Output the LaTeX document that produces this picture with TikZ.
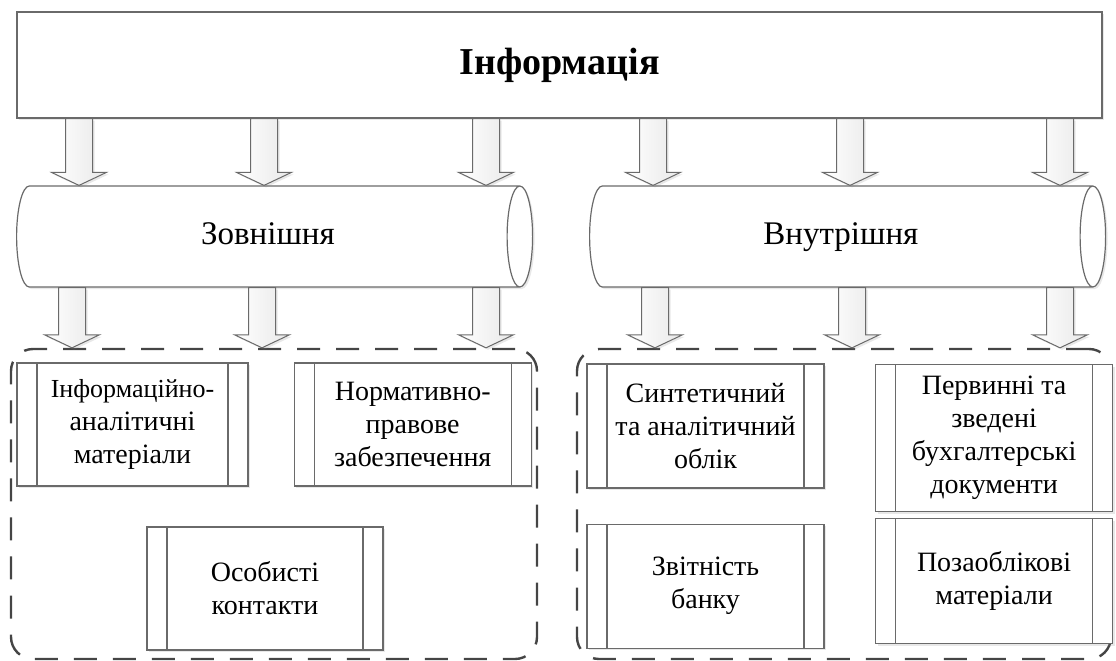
\documentclass[tikz,border=0pt]{standalone}
\usepackage{fontspec}
\setmainfont{Liberation Serif}
\usetikzlibrary{shapes.geometric, positioning, calc, shadows}
\definecolor{linegray}{HTML}{6A6A6A}
\definecolor{dashgray}{HTML}{454545}
\tikzset{
    softshadow/.style={drop shadow={opacity=0.18, shadow xshift=2pt, shadow yshift=-2pt}},
    infobox/.style={rectangle, draw=linegray, fill=white, line width=1.2pt, softshadow, inner sep=0pt, font=\fontsize{38}{44}\selectfont\bfseries},
    procbox/.style={rectangle, draw=linegray, fill=white, line width=1.2pt, softshadow, align=center, inner sep=0pt,
        font=\fontsize{28}{33}\selectfont,
        path picture={
            \draw[linegray, line width=1.2pt] ([xshift=20pt]path picture bounding box.north west) -- ([xshift=20pt]path picture bounding box.south west);
            \draw[linegray, line width=1.2pt] ([xshift=-20pt]path picture bounding box.north east) -- ([xshift=-20pt]path picture bounding box.south east);
        }},
    groupbox/.style={rectangle, draw=dashgray, line width=2.4pt, dash pattern=on 23pt off 16pt, rounded corners=22pt, minimum height=310pt},
    fatarr/.style={draw=linegray, line width=1pt, left color=white, right color=gray!18, softshadow},
}
% block arrow: x position, from node, to node
\newcommand{\fatarrow}[3]{%
  \path[fatarr] let \p1=(#1,0 |- #2.south), \p2=(#1,0 |- #3.north) in
    (\x1-13.5pt,\y1) -- (\x1+13.5pt,\y1) -- (\x1+13.5pt,\y2+13pt) -- (\x1+27.5pt,\y2+13pt)
    -- (\x1,\y2) -- (\x1-27.5pt,\y2+13pt) -- (\x1-13.5pt,\y2+13pt) -- cycle;}

\begin{document}
\begin{tikzpicture}[x=1pt, y=-1pt,
  tube/.style={cylinder, draw=linegray, fill=white, line width=1.2pt, softshadow, shape aspect=0.85,
    minimum height=516pt, minimum width=101pt, inner sep=0pt, text height=23pt, text depth=7pt,
    font=\fontsize{33}{38}\selectfont}
]
\useasboundingbox (0,0) rectangle (1116,661);

% Top - information
\node[infobox, minimum width=1085pt, minimum height=106pt] (info) at (559.5,65) {Інформація};

% Middle row - external and internal
\node[tube, anchor=west] (extern) at (16,236.5) {Зовнішня};
\node[tube, anchor=west] (intern) at (589,236.5) {Внутрішня};

% Bottom row - dashed groups
\node[groupbox, minimum width=526pt] (extgrp) at (274,504) {};
\node[groupbox, minimum width=534pt] (intgrp) at (844,504) {};

% External sources
\node[procbox, minimum width=231pt, minimum height=123pt] (infan) at (132.5,424.5) {{\fontsize{26}{33}\selectfont Інформаційно-}\\аналітичні\\матеріали};
\node[procbox, minimum width=237pt, minimum height=123pt, right=45pt of infan] (norm) {Нормативно-\\правове\\забезпечення};
\node[procbox, minimum width=236pt, minimum height=123pt] (pers) at (265,588.5) {Особисті\\контакти};

% Internal sources
\node[procbox, minimum width=237pt, minimum height=124pt] (synth) at (705.5,426) {Синтетичний\\та аналітичний\\облік};
\node[procbox, minimum width=237pt, minimum height=124pt, below=35pt of synth] (report) {Звітність\\банку};
\node[procbox, minimum width=237pt, minimum height=147pt, anchor=north west] (prim) at (875,364) {Первинні та\\зведені\\бухгалтерські\\документи};
\node[procbox, minimum width=237pt, minimum height=125pt, below=6pt of prim] (offbook) {Позаоблікові\\матеріали};

% Arrows
\foreach \xa in {79,264,486} {\fatarrow{\xa}{info}{extern}}
\foreach \xa in {653,850,1060} {\fatarrow{\xa}{info}{intern}}
\foreach \xa in {72,262,486} {\fatarrow{\xa}{extern}{extgrp}}
\foreach \xa in {655,852,1060} {\fatarrow{\xa}{intern}{intgrp}}
\end{tikzpicture}
\end{document}
